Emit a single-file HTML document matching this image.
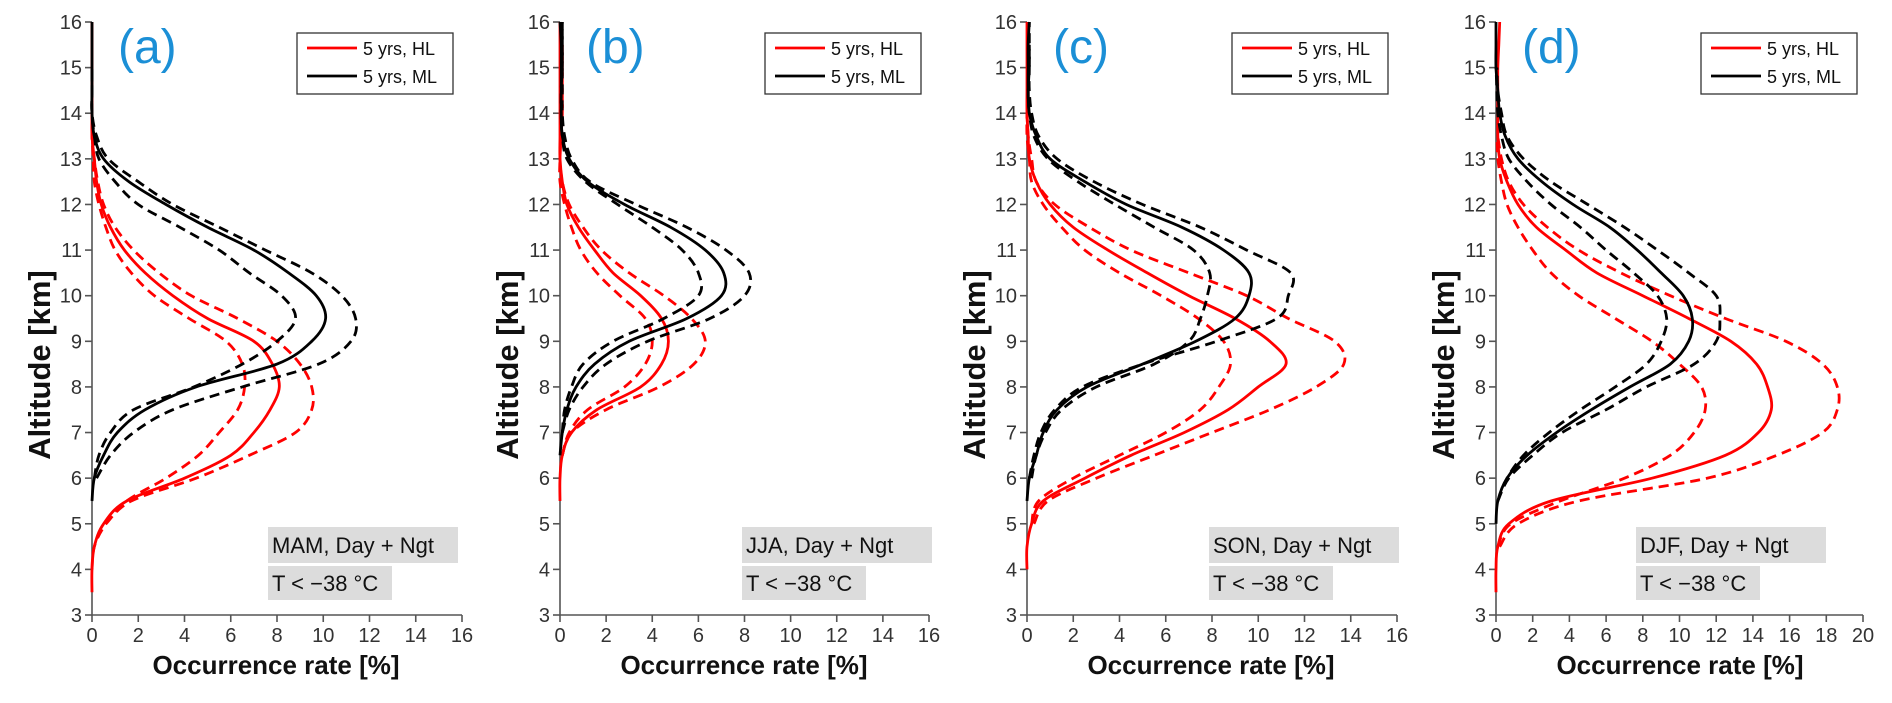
<!DOCTYPE html>
<html><head><meta charset="utf-8"><style>
html,body{margin:0;padding:0;background:#fff;}
svg{display:block;font-family:"Liberation Sans",sans-serif;}
</style></head><body>
<svg id="fig" width="1892" height="703" viewBox="0 0 1892 703" xmlns="http://www.w3.org/2000/svg"></svg>
<script>
const altitudes=[3.5,4,4.5,5,5.5,6,6.5,7,7.5,8,8.5,9,9.5,10,10.5,11,11.5,12,12.5,13,13.5,14,14.5,15,15.5,16];
const yTicks=[3,4,5,6,7,8,9,10,11,12,13,14,15,16];
const panelLabels=["(a)","(b)","(c)","(d)"];
const seasonLabels=["MAM, Day + Ngt","JJA, Day + Ngt","SON, Day + Ngt","DJF, Day + Ngt"];
const xMaxes=[16,16,16,20];
const n=null;
// Panel a
const aHL=[0,0,0.1,0.5,1.5,4.0,6.0,7.0,7.7,8.1,7.8,7.0,5.0,3.5,2.3,1.4,0.8,0.4,0.2,0.1,0,0,0,0,0,0];
const aHLlo=[n,0,0.1,0.6,1.5,3.2,4.6,5.5,6.3,6.6,6.5,5.8,4.2,2.7,1.7,1.0,0.6,0.3,0.1,0.05,0,0,n,n,n,n];
const aHLhi=[n,n,n,0.6,1.7,4.5,6.8,8.8,9.5,9.5,9.0,8.0,6.3,4.3,2.9,1.8,1.0,0.5,0.25,0.1,0,n,n,n,n,n];
const aML=[n,n,n,n,0,0.1,0.5,1.1,2.3,4.5,8.0,9.5,10.1,9.7,8.5,7.0,5.0,3.2,1.6,0.5,0.1,0,0,0,0,0];
const aMLlo=[n,n,n,n,n,0.1,0.3,0.8,1.8,4.4,6.5,8.0,8.8,8.2,6.8,5.5,3.8,2.0,1.0,0.3,0.1,0,0,0,n,n];
const aMLhi=[n,n,n,n,n,0.2,0.8,1.8,3.5,6.5,9.8,11.2,11.4,10.8,9.5,7.5,5.5,3.5,2.0,0.7,0.2,0,0,0,n,n];
// Panel b
const bHL=[n,n,n,n,0,0,0.1,0.5,1.6,3.5,4.4,4.7,4.4,3.5,2.3,1.5,0.8,0.3,0.1,0,0,0,0,0,0,0];
const bHLlo=[n,n,n,n,n,n,0.1,0.4,1.2,2.8,3.7,4.0,3.7,2.6,1.6,0.9,0.5,0.2,0,0,0.05,0.1,0.1,0.1,0.1,n];
const bHLhi=[n,n,n,n,n,n,0.1,0.5,2.0,4.3,5.8,6.3,5.7,4.5,3.0,1.8,1.0,0.4,0.1,0,0.05,0.1,0.1,0.1,0.1,n];
const bML=[n,n,n,n,n,n,0,0.1,0.3,0.7,1.5,3.0,5.5,7.0,7.1,6.3,4.8,2.8,1.2,0.4,0.1,0.05,0.05,0.05,0.05,0];
const bMLlo=[n,n,n,n,n,n,n,0.1,0.2,0.5,1.0,2.3,4.5,6.0,6.0,5.3,4.0,2.5,1.1,0.3,0.1,0.05,0.05,0.1,0.1,0.1];
const bMLhi=[n,n,n,n,n,n,n,0.1,0.4,1.0,2.0,3.8,6.5,8.0,8.2,7.2,5.5,3.3,1.3,0.5,0.2,0.1,0.1,0.1,0.1,0.1];
// Panel c
const cHL=[n,0,0,0.2,0.7,2.5,4.5,6.8,8.7,10.0,11.2,10.5,9.0,7.0,5.2,3.5,2.0,1.0,0.4,0.1,0.05,0,0,0,0,0];
const cHLlo=[n,n,n,0.2,0.5,2.0,4.0,6.0,7.5,8.3,8.8,8.5,7.4,5.8,4.0,2.5,1.5,0.7,0.2,0.1,0,0,n,n,n,n];
const cHLhi=[n,n,n,0.3,0.9,3.0,5.5,8.0,10.5,12.5,13.7,13.3,11.3,9.5,7.0,4.5,2.7,1.2,0.4,0.2,0.05,0,n,n,n,n];
const cML=[n,n,n,n,0,0.1,0.4,0.7,1.3,2.6,5.0,7.3,9.0,9.6,9.6,8.5,6.7,4.3,2.5,1.0,0.4,0.1,0.05,0.05,0.05,0.1];
const cMLlo=[n,n,n,n,n,0.2,0.4,0.8,1.5,3.0,5.5,7.0,7.5,7.8,7.9,7.2,5.5,3.8,2.2,0.9,0.3,0.1,0.05,0.1,0.1,n];
const cMLhi=[n,n,n,n,n,0.1,0.3,0.6,1.2,2.4,5.0,8.2,10.8,11.3,11.4,9.5,7.5,5.0,2.9,1.3,0.5,0.2,0.1,0.1,0.1,0.1];
// Panel d
const dHL=[0,0,0.1,0.7,3.0,8.5,12.5,14.3,15.0,14.8,14.2,12.8,10.5,8.0,5.5,3.8,2.2,1.2,0.6,0.2,0.1,0.1,0.1,0.1,0.15,0.2];
const dHLlo=[n,n,0.1,0.8,3.5,7.0,9.5,10.8,11.4,11.2,10.0,8.5,6.5,4.5,3.0,2.0,1.2,0.6,0.3,0.1,0.05,n,n,n,n,n];
const dHLhi=[n,n,0.2,1.2,4.5,11.5,15.3,17.8,18.6,18.6,17.8,15.8,12.5,9.5,6.8,4.5,2.8,1.5,0.7,0.3,0.1,n,n,n,n,n];
const dML=[n,n,n,0,0.1,0.6,1.7,3.3,5.2,7.3,9.5,10.5,10.7,10.2,9.0,7.7,6.2,4.2,2.5,1.2,0.5,0.2,0.1,0,0,0];
const dMLlo=[n,n,n,n,0.1,0.6,1.5,2.9,4.6,6.5,8.2,9.0,9.3,8.8,7.5,6.0,4.6,3.0,1.7,0.7,0.3,0.1,0.05,0,n,n];
const dMLhi=[n,n,n,n,0.1,0.7,2.0,3.6,6.0,8.2,10.8,12.0,12.2,12.0,10.5,8.8,7.0,5.0,3.0,1.5,0.6,0.3,0.1,0.05,n,n];

const panels=[
 {x0:92,x1:462,ann:268,data:[aHL,aHLlo,aHLhi,aML,aMLlo,aMLhi]},
 {x0:560,x1:929,ann:742,data:[bHL,bHLlo,bHLhi,bML,bMLlo,bMLhi]},
 {x0:1027,x1:1397,ann:1209,data:[cHL,cHLlo,cHLhi,cML,cMLlo,cMLhi]},
 {x0:1496,x1:1863,ann:1636,data:[dHL,dHLlo,dHLhi,dML,dMLlo,dMLhi]}
];
const yTop=22,yBot=615,yMin=3,yMax=16;
const NS="http://www.w3.org/2000/svg";
const svg=document.getElementById('fig');
function mk(tag,attrs,parent,text){const e=document.createElementNS(NS,tag);for(const k in attrs)e.setAttribute(k,attrs[k]);if(text!==undefined)e.textContent=text;(parent||svg).appendChild(e);return e;}
const yS=v=>yBot-(v-yMin)/(yMax-yMin)*(yBot-yTop);
function smoothPath(pts){
 if(pts.length<2)return "";
 let d="M"+pts[0][0].toFixed(1)+","+pts[0][1].toFixed(1);
 for(let i=0;i<pts.length-1;i++){
  const p0=pts[i-1]||pts[i],p1=pts[i],p2=pts[i+1],p3=pts[i+2]||p2;
  const c1=[p1[0]+(p2[0]-p0[0])/6,p1[1]+(p2[1]-p0[1])/6];
  const c2=[p2[0]-(p3[0]-p1[0])/6,p2[1]-(p3[1]-p1[1])/6];
  d+=" C"+c1[0].toFixed(1)+","+c1[1].toFixed(1)+" "+c2[0].toFixed(1)+","+c2[1].toFixed(1)+" "+p2[0].toFixed(1)+","+p2[1].toFixed(1);
 }
 return d;
}
const seriesNames=["hl-mean","hl-lower","hl-upper","ml-mean","ml-lower","ml-upper"];
panels.forEach((p,pi)=>{
 const g=mk('g',{});
 
 
 const xMax=xMaxes[pi];
 const xS=v=>p.x0+v/xMax*(p.x1-p.x0);
 const ax=mk('path',{d:`M${p.x0},${yTop} V${yBot} H${p.x1}`,stroke:'#555',fill:'none','stroke-width':1.6},g);
 
 
 yTicks.forEach(t=>{
  mk('line',{x1:p.x0-7,x2:p.x0,y1:yS(t),y2:yS(t),stroke:'#555','stroke-width':1.6},g);
  const tl=mk('text',{x:p.x0-10,y:yS(t)+7,'text-anchor':'end','font-size':20,fill:'#333'},g,String(t));
  
  
 });
 for(let t=0;t<=xMax;t+=2){
  mk('line',{x1:xS(t),x2:xS(t),y1:yBot,y2:yBot+7,stroke:'#555','stroke-width':1.6},g);
  const tl=mk('text',{x:xS(t),y:yBot+27,'text-anchor':'middle','font-size':20,fill:'#333'},g,String(t));
  
  
 }
 const xt=mk('text',{x:p.x0+184,y:674,'text-anchor':'middle','font-size':26,'font-weight':'bold',fill:'#111'},g,'Occurrence rate [%]');
 
 
 const yt=mk('text',{x:0,y:0,transform:`translate(${p.x0-42},365) rotate(-90)`,'text-anchor':'middle','font-size':31,'font-weight':'bold',fill:'#111'},g,'Altitude [km]');
 
 
 p.data.forEach((arr,si)=>{
  const pts=[];
  arr.forEach((v,i)=>{if(v!==null)pts.push([xS(v),yS(altitudes[i])]);});
  const path=mk('path',{d:smoothPath(pts),fill:'none',stroke:si<3?'#ff0000':'#000','stroke-width':2.8,'stroke-dasharray':(si%3===0)?'none':'10,6'},g);
  
  
 });
 const pl=mk('text',{x:p.x0+26,y:63,'font-size':48,fill:'#1b8fd6'},g,panelLabels[pi]);
 
 
 const lg=mk('g',{},g);
 
 
 const lx=p.x0+205;
 mk('rect',{x:lx,y:33,width:156,height:61,fill:'#fff',stroke:'#333','stroke-width':1.3},lg);
 mk('line',{x1:lx+10,x2:lx+60,y1:48,y2:48,stroke:'#ff0000','stroke-width':2.8},lg);
 mk('line',{x1:lx+10,x2:lx+60,y1:76,y2:76,stroke:'#000','stroke-width':2.8},lg);
 const e1=mk('text',{x:lx+66,y:55,'font-size':18,fill:'#111'},lg,'5 yrs, HL');
 
 
 const e2=mk('text',{x:lx+66,y:83,'font-size':18,fill:'#111'},lg,'5 yrs, ML');
 
 
 const an=mk('g',{},g);
 
 
 mk('rect',{x:p.ann,y:527,width:190,height:36,fill:'#dcdcdc'},an);
 mk('rect',{x:p.ann,y:566,width:124,height:34,fill:'#dcdcdc'},an);
 mk('text',{x:p.ann+4,y:553,'font-size':22,fill:'#111'},an,seasonLabels[pi]);
 mk('text',{x:p.ann+4,y:591,'font-size':22,fill:'#111'},an,'T < \u221238 \u00b0C');
});
</script>
</body></html>
